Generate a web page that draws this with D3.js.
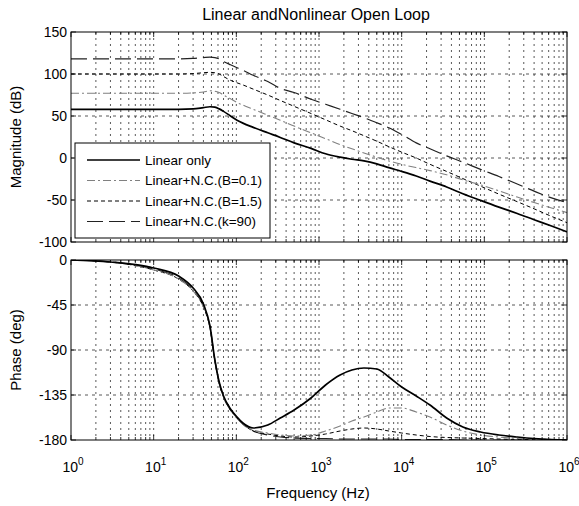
<!DOCTYPE html>
<html>
<head>
<meta charset="utf-8">
<script src="https://cdn.jsdelivr.net/npm/d3@7"></script>
<style>
  body { margin: 0; background: #fff; }
  text { font-family: "Liberation Sans", Arial, Helvetica, sans-serif; fill: #000; }
</style>
</head>
<body>
<svg id="chart" width="579" height="506"></svg>
<script>
// Frequency samples (Hz) shared by all curves
const freq = [1, 3, 10, 20, 30, 40, 48, 55, 62, 70, 85, 102, 120, 160, 240, 340, 500, 800,
  1200, 1800, 2500, 3500, 5000, 7000, 10000, 15000, 22000, 35000, 55000, 90000,
  150000, 250000, 400000, 650000, 1000000];

// Magnitude (dB)
const magLinear = [58, 58, 58, 58, 58.5, 60, 61, 60.5, 58.5, 55.5, 50, 45, 41.5, 36.5, 30, 24.5, 18, 11.5,
  5, 1, -1.5, -3.5, -7, -11.5, -16, -21.5, -27.5, -34.5, -42.5, -50.5,
  -58.5, -66, -73.5, -81, -88];
const magB01 = [77, 77, 77, 77, 77.5, 78.5, 80, 79.5, 78, 75, 70.5, 66, 63, 58, 51, 45, 38, 30,
  23, 16, 11, 6, 1, -3.5, -7.5, -11.5, -15, -20, -26, -32,
  -39, -46.5, -53, -59.5, -65];
const magB15 = [100, 100, 100, 100, 100.5, 101.5, 102, 101.5, 100, 97, 92.5, 89.5, 87, 82, 75, 68.5, 61.5, 53,
  45.5, 38, 32.5, 26.5, 20, 13.5, 7, 0, -7.5, -16, -24.5, -33.5,
  -43, -52, -60.5, -69.5, -77];
const magK90 = [118, 118, 118, 118, 118.5, 119.5, 120, 119.5, 118, 115, 111, 107.5, 104.5, 98.5, 91, 83, 78, 70,
  64, 58, 53, 48, 42, 36, 28, 18, 11, 2.5, -5, -13.5,
  -22, -31, -39.5, -47.5, -53];

// Phase (deg)
const phLinear = [0, -2, -8, -16, -28, -44, -66, -100, -122, -136, -149, -157, -163, -168, -165, -158, -150, -138,
  -125, -115, -110, -108, -109, -117, -127, -136, -145, -158, -167, -172,
  -175, -177, -178.5, -179.5, -180];
const phB01 = [0, -2, -10, -19, -31, -47, -68, -101, -123, -137, -150, -158, -164, -170, -173, -175, -176, -175,
  -171, -166, -161, -157, -152, -148, -148, -152, -157, -165, -171, -175,
  -177, -178.5, -179, -179.5, -180];
const phB15 = [0, -2, -10, -19, -31, -47, -68, -101, -123, -137, -150, -158, -164, -171, -174, -176, -177, -176,
  -174, -171, -169, -168, -169, -171, -173, -175, -176.5, -177.5, -178, -178.5,
  -179, -179.5, -179.5, -180, -180];
const phK90 = [0, -2, -9, -18, -30, -46, -67, -100, -123, -137, -150, -158, -164, -171, -175, -177, -178, -178.5,
  -178.5, -179, -179, -179, -179, -179, -179.5, -179.5, -179.5, -179.5, -180, -180,
  -180, -180, -180, -180, -180];

const seriesNames = ["Linear only", "Linear+N.C.(B=0.1)", "Linear+N.C.(B=1.5)", "Linear+N.C.(k=90)"];
const magSeries = [magLinear, magB01, magB15, magK90];
const phaseSeries = [phLinear, phB01, phB15, phK90];

const magTicks = [150, 100, 50, 0, -50, -100];
const phaseTicks = [0, -45, -90, -135, -180];
const decadeExponents = [0, 1, 2, 3, 4, 5, 6];

// Line styles per series
const styles = [
  { color: "#000", width: 1.7, dash: null },
  { color: "#808080", width: 1.1, dash: "8,3,2,3" },
  { color: "#000", width: 1.0, dash: "4,3" },
  { color: "#222", width: 1.2, dash: "16,6" }
];

const svg = d3.select("#chart");
svg.append("rect").attr("width", 579).attr("height", 506).attr("fill", "#fff");

const left = 71, right = 567;
const x = d3.scaleLog().domain([1, 1e6]).range([left, right]);
const yMag = d3.scaleLinear().domain([-100, 150]).range([242, 32]);
const yPh = d3.scaleLinear().domain([-180, 0]).range([440, 260]);

// minor frequencies for grid / ticks
const minorFreqs = [];
for (let d = 0; d < 6; d++) {
  for (let k = 2; k <= 9; k++) minorFreqs.push(k * Math.pow(10, d));
}
const majorFreqs = decadeExponents.map(e => Math.pow(10, e));

function panel(id, y, ticks, series) {
  const g = svg.append("g");
  const [y0, y1] = y.range(); // bottom, top
  g.append("clipPath").attr("id", "clip-" + id)
    .append("rect").attr("x", left).attr("y", y1).attr("width", right - left).attr("height", y0 - y1);

  // vertical dotted grid at every log step
  g.append("g").selectAll("line")
    .data(minorFreqs.concat(majorFreqs.slice(1, 6)))
    .join("line")
    .attr("x1", d => x(d)).attr("x2", d => x(d))
    .attr("y1", y1).attr("y2", y0)
    .attr("stroke", "#222").attr("stroke-width", 0.75)
    .attr("stroke-dasharray", "2,4");

  // horizontal dashed grid at major ticks
  g.append("g").selectAll("line")
    .data(ticks.slice(1, ticks.length - 1))
    .join("line")
    .attr("x1", left).attr("x2", right)
    .attr("y1", d => y(d)).attr("y2", d => y(d))
    .attr("stroke", "#222").attr("stroke-width", 0.75)
    .attr("stroke-dasharray", "3,4");

  // curves
  const line = d3.line()
    .x((d, i) => x(freq[i]))
    .y(d => y(d))
    .curve(d3.curveMonotoneX);
  const cg = g.append("g").attr("clip-path", "url(#clip-" + id + ")");
  [3, 2, 1, 0].forEach(i => {
    cg.append("path")
      .attr("d", line(series[i]))
      .attr("fill", "none")
      .attr("stroke", styles[i].color)
      .attr("stroke-width", styles[i].width)
      .attr("stroke-dasharray", styles[i].dash);
  });

  // box
  g.append("rect").attr("x", left).attr("y", y1).attr("width", right - left).attr("height", y0 - y1)
    .attr("fill", "none").attr("stroke", "#000").attr("stroke-width", 1);

  // inward ticks, top and bottom
  const tk = g.append("g").attr("stroke", "#000").attr("stroke-width", 0.8);
  majorFreqs.forEach(f => {
    tk.append("line").attr("x1", x(f)).attr("x2", x(f)).attr("y1", y0).attr("y2", y0 - 5);
    tk.append("line").attr("x1", x(f)).attr("x2", x(f)).attr("y1", y1).attr("y2", y1 + 5);
  });
  minorFreqs.forEach(f => {
    tk.append("line").attr("x1", x(f)).attr("x2", x(f)).attr("y1", y0).attr("y2", y0 - 3);
    tk.append("line").attr("x1", x(f)).attr("x2", x(f)).attr("y1", y1).attr("y2", y1 + 3);
  });
  ticks.forEach(t => {
    tk.append("line").attr("x1", left).attr("x2", left + 5).attr("y1", y(t)).attr("y2", y(t));
    tk.append("line").attr("x1", right).attr("x2", right - 5).attr("y1", y(t)).attr("y2", y(t));
  });

  // y tick labels
  g.append("g").selectAll("text")
    .data(ticks)
    .join("text")
    .attr("x", left - 4).attr("y", d => y(d))
    .attr("dy", "0.36em")
    .attr("text-anchor", "end")
    .attr("font-size", 14)
    .text(d => d);
  return g;
}

panel("mag", yMag, magTicks, magSeries);
panel("ph", yPh, phaseTicks, phaseSeries);

// legend inside magnitude panel
const lg = svg.append("g");
lg.append("rect").attr("x", 75).attr("y", 143).attr("width", 195).attr("height", 95)
  .attr("fill", "#fff").attr("stroke", "#000").attr("stroke-width", 1);
seriesNames.forEach((name, i) => {
  const yy = 160 + i * 20.5;
  lg.append("line").attr("x1", 87).attr("x2", 140).attr("y1", yy).attr("y2", yy)
    .attr("stroke", styles[i].color).attr("stroke-width", styles[i].width)
    .attr("stroke-dasharray", styles[i].dash);
  lg.append("text").attr("x", 145).attr("y", yy).attr("dy", "0.36em")
    .attr("font-size", 13.5).text(name);
});

// x tick labels 10^n
const xl = svg.append("g");
decadeExponents.forEach(e => {
  const t = xl.append("text").attr("x", x(Math.pow(10, e)) + 2).attr("y", 472)
    .attr("text-anchor", "middle").attr("font-size", 14);
  t.append("tspan").text("10");
  t.append("tspan").attr("dy", -7).attr("font-size", 10).text(e);
});

// titles
svg.append("text").attr("x", 316).attr("y", 20).attr("text-anchor", "middle")
  .attr("font-size", 16).text("Linear andNonlinear Open Loop");
svg.append("text").attr("transform", "translate(21,137) rotate(-90)")
  .attr("text-anchor", "middle").attr("font-size", 15).text("Magnitude (dB)");
svg.append("text").attr("transform", "translate(21,350) rotate(-90)")
  .attr("text-anchor", "middle").attr("font-size", 15).text("Phase (deg)");
svg.append("text").attr("x", 318).attr("y", 498).attr("text-anchor", "middle")
  .attr("font-size", 15).text("Frequency (Hz)");
</script>
</body>
</html>
